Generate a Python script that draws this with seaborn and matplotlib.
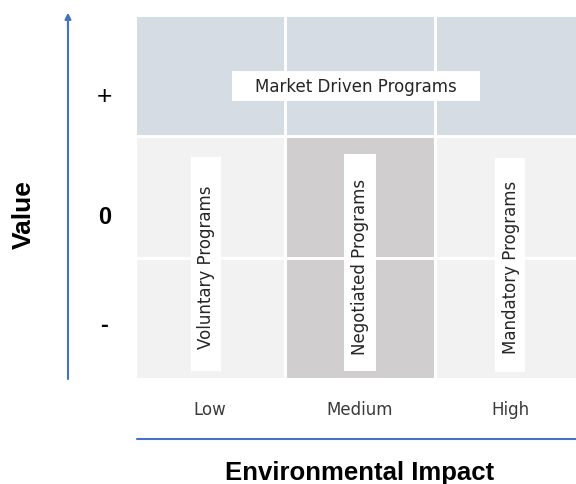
import numpy as np
import matplotlib
matplotlib.use("Agg")
import matplotlib.pyplot as plt
from matplotlib.colors import ListedColormap
from matplotlib.patches import Rectangle
import seaborn as sns

# categories
impact_levels = ["Low", "Medium", "High"]
value_levels = ["+", "0", "-"]

# zone of each cell: 0 = market driven, 1 = light, 2 = negotiated (darker)
zone_grid = [
    [0, 0, 0],
    [1, 2, 1],
    [1, 2, 1],
]

market_label = "Market Driven Programs"
column_programs = ["Voluntary Programs", "Negotiated Programs", "Mandatory Programs"]

zone_colors = ["#D6DCE4", "#F2F2F2", "#D0CECE"]
axis_blue = "#4472C4"

sns.set_style("white")

fig = plt.figure(figsize=(5.76, 4.85), dpi=100)
ax = fig.add_axes([0.2344, 0.2165, 0.78125, 0.7505])

sns.heatmap(np.array(zone_grid), ax=ax, cmap=ListedColormap(zone_colors),
            vmin=-0.5, vmax=2.5, cbar=False, linewidths=1.0, linecolor="white",
            xticklabels=impact_levels, yticklabels=False)

for s in ax.spines.values():
    s.set_visible(False)

# x tick labels (column centres)
ax.tick_params(axis="x", length=0, pad=15, labelsize=12, labelcolor="#3A3A3A")
# y labels are not at the row centres in the original
ax.set_yticks([0.65, 1.64, 2.53])
ax.set_yticklabels(value_levels, fontsize=17, fontweight="bold",
                   family="Liberation Sans", rotation=0, color="black")
ax.tick_params(axis="y", length=0, pad=22)
for t in ax.get_yticklabels():
    t.set_horizontalalignment("center")
plus = ax.get_yticklabels()[0]
plus.set_fontweight("normal")
plus.set_fontsize(19)

# market driven label box in the top row
ax.add_patch(Rectangle((0.647, 0.4615), 1.653, 0.2475, facecolor="white",
                       edgecolor="none", zorder=3))
ax.text(1.473, 0.585, market_label, ha="center", va="center", fontsize=12,
        color="#262626", zorder=4)

# vertical program labels
text_x = [0.473, 1.5, 2.507]
box_x = [(0.373, 0.573), (1.393, 1.607), (2.4, 2.6)]
box_y = [(1.17, 2.934), (1.146, 2.934), (1.179, 2.942)]
for lbl, tx, bx, by in zip(column_programs, text_x, box_x, box_y):
    ax.add_patch(Rectangle((bx[0], by[0]), bx[1] - bx[0], by[1] - by[0],
                           facecolor="white", edgecolor="none", zorder=3))
    ax.text(tx, 2.07, lbl, ha="center", va="center", rotation=90, fontsize=12,
            color="#262626", zorder=4)

# value axis arrow and impact axis line
fig.add_artist(plt.Line2D([0.118, 0.118], [0.2165, 0.955], color=axis_blue, lw=1.5))
ax.annotate("", xy=(0.118, 0.972), xycoords="figure fraction",
            xytext=(0.118, 0.94), textcoords="figure fraction",
            arrowprops=dict(arrowstyle="-|>", color=axis_blue, lw=1.5,
                            mutation_scale=9, shrinkA=0, shrinkB=0))
fig.add_artist(plt.Line2D([0.2378, 1.0], [0.0928, 0.0928], color=axis_blue, lw=1.5))

fig.text(0.0417, 0.557, "Value", rotation=90, ha="center", va="center",
         fontsize=19, fontweight="bold", family="Liberation Sans", color="black")
fig.text(0.625, 0.001, "Environmental Impact", ha="center", va="bottom",
         fontsize=18.5, fontweight="bold", family="Liberation Sans", color="black")

fig.savefig("out.png", dpi=100)
